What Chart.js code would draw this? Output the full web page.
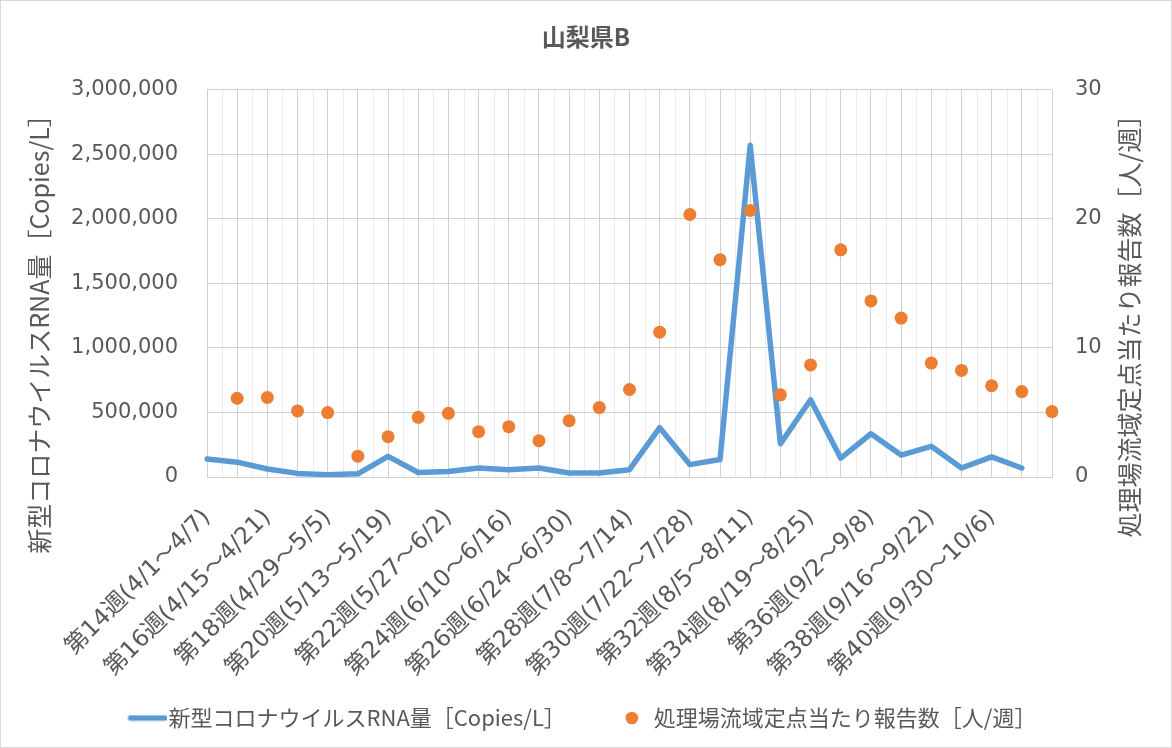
<!DOCTYPE html>
<html>
<head>
<meta charset="utf-8">
<script src="https://cdn.jsdelivr.net/npm/chart.js@4.4.0/dist/chart.umd.min.js"></script>
<style>
@font-face {
  font-family: 'XTilde';
  src: local('Noto Sans CJK JP'), local('Noto Sans CJK JP Regular'), local('NotoSansCJKjp-Regular'), local('NotoSansCJKJP-Regular');
  unicode-range: U+FF5E;
}
html,body{margin:0;padding:0;background:#fff;}
#wrap{width:1172px;height:748px;position:relative;}
</style>
</head>
<body>
<div id="wrap"><canvas id="c" width="1172" height="748"></canvas></div>
<script>
// ---- data ----
const chartTitle = '山梨県B';
const weeks = [
  '第14週(4/1～4/7)','第15週(4/8～4/14)','第16週(4/15～4/21)','第17週(4/22～4/28)',
  '第18週(4/29～5/5)','第19週(5/6～5/12)','第20週(5/13～5/19)','第21週(5/20～5/26)',
  '第22週(5/27～6/2)','第23週(6/3～6/9)','第24週(6/10～6/16)','第25週(6/17～6/23)',
  '第26週(6/24～6/30)','第27週(7/1～7/7)','第28週(7/8～7/14)','第29週(7/15～7/21)',
  '第30週(7/22～7/28)','第31週(7/29～8/4)','第32週(8/5～8/11)','第33週(8/12～8/18)',
  '第34週(8/19～8/25)','第35週(8/26～9/1)','第36週(9/2～9/8)','第37週(9/9～9/15)',
  '第38週(9/16～9/22)','第39週(9/23～9/29)','第40週(9/30～10/6)','第41週(10/7～10/13)'
];
const rnaCopies = [140000,115000,62000,28000,18000,25000,160000,35000,42000,70000,57000,70000,31000,31000,
  57000,382000,96000,135000,2570000,257000,598000,146000,335000,170000,238000,70000,156000,70000];
const reportsPerSite = [6.1,6.16,5.12,4.99,1.61,3.12,4.62,4.93,3.51,3.9,2.81,4.36,5.38,6.78,
  11.22,20.34,16.84,20.65,6.37,8.68,17.6,13.64,12.31,8.83,8.26,7.07,6.62,5.07];
const seriesNames = ['新型コロナウイルスRNA量［Copies/L］','処理場流域定点当たり報告数［人/週］'];
const leftAxisTitle = '新型コロナウイルスRNA量［Copies/L］';
const rightAxisTitle = '処理場流域定点当たり報告数［人/週］';
const leftTicks = [0,500000,1000000,1500000,2000000,2500000,3000000];
const rightTicks = [0,10,20,30];

// ---- styling ----
const TEXT = '#595959';
const NUMFONT = "'DejaVu Sans','Noto Sans CJK JP',sans-serif";
const XFONT = "'XTilde','DejaVu Sans','Noto Sans CJK JP',sans-serif";
const JPFONT = "'Noto Sans CJK JP','Noto Sans',sans-serif";
const BLUE = '#5B9BD5', ORANGE = '#ED7D31';

const axisLabels = [...weeks, ''];
const lineData = [...rnaCopies, null];
const dotData = [null, ...reportsPerSite];

function lineImg(){
  const c = document.createElement('canvas'); c.width = 40; c.height = 7;
  const g = c.getContext('2d'); g.strokeStyle = BLUE; g.lineWidth = 5.5; g.lineCap = 'round';
  g.beginPath(); g.moveTo(4,3.5); g.lineTo(38,3.5); g.stroke(); return c;
}
function dotImg(){
  const c = document.createElement('canvas'); c.width = 14; c.height = 14;
  const g = c.getContext('2d'); g.fillStyle = ORANGE; g.beginPath(); g.arc(7,7,6.3,0,Math.PI*2); g.fill(); return c;
}
const legendMarks = [lineImg(), dotImg()];

const minorGrid = {
  id: 'minorGrid',
  beforeDraw(chart){
    const xs = chart.scales.x, a = chart.chartArea, ctx = chart.ctx;
    ctx.save(); ctx.strokeStyle = '#EBEBEB'; ctx.lineWidth = 1;
    for (let i = 0; i < axisLabels.length - 1; i++){
      const x = Math.round((xs.getPixelForValue(i) + xs.getPixelForValue(i+1)) / 2) + 0.5;
      ctx.beginPath(); ctx.moveTo(x, a.top); ctx.lineTo(x, a.bottom); ctx.stroke();
    }
    ctx.restore();
  }
};
const extras = {
  id: 'extras',
  afterDraw(chart){
    const ctx = chart.ctx;
    ctx.save();
    ctx.fillStyle = TEXT; ctx.textAlign = 'center'; ctx.textBaseline = 'middle';
    ctx.font = "25px " + JPFONT;
    ctx.save(); ctx.translate(39, 328); ctx.rotate(-Math.PI/2); ctx.fillText(leftAxisTitle, 0, 0); ctx.restore();
    ctx.save(); ctx.translate(1129, 320); ctx.rotate(-Math.PI/2); ctx.fillText(rightAxisTitle, 0, 0); ctx.restore();
    ctx.strokeStyle = '#D9D9D9'; ctx.lineWidth = 1; ctx.strokeRect(0.5, 0.5, 1171, 747);
    ctx.restore();
  }
};

function build(){
  new Chart(document.getElementById('c'), {
    type: 'line',
    data: {
      labels: axisLabels,
      datasets: [
        { label: seriesNames[0], data: lineData, yAxisID: 'y', borderColor: BLUE, backgroundColor: BLUE,
          borderWidth: 5.5, pointRadius: 0, pointHoverRadius: 0, tension: 0, borderJoinStyle: 'round', borderCapStyle: 'round', order: 1 },
        { label: seriesNames[1], data: dotData, yAxisID: 'y2', showLine: false, borderColor: ORANGE, backgroundColor: ORANGE,
          pointRadius: 6.5, pointBorderWidth: 0, pointHoverRadius: 6.5, order: 0 }
      ]
    },
    options: {
      responsive: false, animation: false, devicePixelRatio: 1,
      layout: { padding: { left: 0, right: 0, top: 0, bottom: 9 } },
      plugins: {
        title: { display: true, text: chartTitle, color: TEXT, font: { family: JPFONT, size: 24, weight: 'bold' },
          padding: { top: 22, bottom: 39 } },
        legend: { position: 'bottom', labels: { color: TEXT, font: { family: JPFONT, size: 22 }, usePointStyle: true,
          boxWidth: 22, padding: 55,
          sort: (a, b) => a.datasetIndex - b.datasetIndex,
          generateLabels(chart){
            const items = Chart.defaults.plugins.legend.labels.generateLabels(chart);
            items.forEach(it => { it.pointStyle = legendMarks[it.datasetIndex]; });
            return items;
          } } },
        tooltip: { enabled: false }
      },
      scales: {
        x: { type: 'category', offset: false,
          grid: { color: '#D0D0D0', drawTicks: false }, border: { color: '#D0D0D0' },
          ticks: { autoSkip: false, minRotation: 45, maxRotation: 45, padding: 27, color: TEXT,
            font: { family: XFONT, size: 23.5 },
            callback: (v, i) => (i % 2 === 0 ? axisLabels[i] : '') },
          afterFit: s => { s.height = 175; s._computeLabelArea = () => null; } },
        y: { position: 'left', min: 0, max: 3000000,
          grid: { color: '#D0D0D0', drawTicks: false }, border: { display: false },
          afterBuildTicks: s => { s.ticks = leftTicks.map(v => ({ value: v })); },
          ticks: { padding: 29, color: TEXT, font: { family: NUMFONT, size: 21 }, callback: v => v.toLocaleString('en-US') },
          afterFit: s => { s.width = 207; } },
        y2: { position: 'right', min: 0, max: 30,
          grid: { drawOnChartArea: false, drawTicks: false }, border: { display: false },
          afterBuildTicks: s => { s.ticks = rightTicks.map(v => ({ value: v })); },
          ticks: { padding: 23, color: TEXT, font: { family: NUMFONT, size: 21 } },
          afterFit: s => { s.width = 120; } }
      }
    },
    plugins: [minorGrid, extras]
  });
}
Promise.all([document.fonts.load("23.5px XTilde", "～"), document.fonts.load("23px 'Noto Sans CJK JP'", "第")])
  .catch(() => {}).then(build);
</script>
</body>
</html>
